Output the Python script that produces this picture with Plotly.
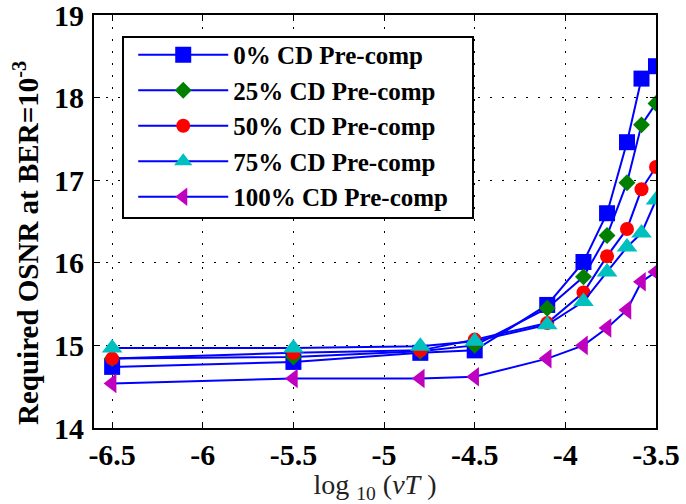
import plotly.graph_objects as go

x_vals = [-6.5, -5.5, -4.8, -4.5, -4.1, -3.9, -3.77, -3.66, -3.58, -3.5]
cd0 = [14.74, 14.80, 14.91, 14.94, 15.49, 16.01, 16.60, 17.46, 18.23, 18.38]
cd25 = [14.84, 14.86, 14.93, 15.00, 15.45, 15.83, 16.33, 16.97, 17.67, 17.93]
cd50 = [14.84, 14.91, 14.94, 15.07, 15.27, 15.64, 16.08, 16.41, 16.89, 17.16]
cd75 = [14.97, 14.97, 14.99, 15.05, 15.25, 15.53, 15.89, 16.19, 16.36, 16.76]
cd100 = [14.54, 14.60, 14.60, 14.62, 14.84, 15.00, 15.21, 15.43, 15.77, 15.89]

series_names = ["0% CD Pre-comp", "25% CD Pre-comp", "50% CD Pre-comp",
                "75% CD Pre-comp", "100% CD Pre-comp"]
series_vals = [cd0, cd25, cd50, cd75, cd100]
marker_symbols = ["square", "diamond", "circle", "triangle-up", "triangle-left"]
marker_colors = ["#0000FF", "#007F00", "#FF0000", "#00BFBF", "#BF00BF"]
marker_sizes = [16, 13, 14, 18, 17]

x_ticks = [-6.5, -6, -5.5, -5, -4.5, -4, -3.5]
x_ticklabels = ["-6.5", "-6", "-5.5", "-5", "-4.5", "-4", "-3.5"]
y_ticks = [14, 15, 16, 17, 18, 19]

FONT = "Liberation Serif"

fig = go.Figure()
for name, vals, sym, col, sz in zip(series_names, series_vals, marker_symbols,
                                     marker_colors, marker_sizes):
    fig.add_trace(go.Scatter(
        x=x_vals, y=vals, name=name, mode="lines+markers",
        line=dict(color="#0000FF", width=2),
        marker=dict(symbol=sym, color=col, size=sz, line=dict(width=0)),
    ))

axis_common = dict(
    showline=True, linecolor="black", linewidth=2, mirror="ticks",
    ticks="inside", ticklen=6, tickcolor="black", tickwidth=1,
    showgrid=True, gridcolor="black", gridwidth=1, griddash="2px,10px",
    zeroline=False, automargin=False, ticklabeloverflow="allow",
    tickfont=dict(family=FONT, size=30, color="black", weight="bold"),
)

fig.update_xaxes(
    range=[-6.6, -3.5], tickvals=x_ticks, ticktext=x_ticklabels,
    ticklabelstandoff=-1,
    title=dict(text="log <sub>10</sub> (<i>νT</i> )",
               font=dict(family=FONT, size=28, color="#222"), standoff=0),
    **axis_common,
)
fig.update_yaxes(
    range=[14, 19], tickvals=y_ticks, ticklabelstandoff=2,
    **axis_common,
)

fig.add_annotation(
    text="Required OSNR at BER=10<sup>-3</sup>",
    xref="paper", yref="paper", x=-0.12, y=0.447,
    xanchor="center", yanchor="middle", textangle=-90, showarrow=False,
    font=dict(family=FONT, size=29, color="black", weight="bold"),
)

# legend frame
fig.add_shape(
    type="rect", xref="paper", yref="paper",
    x0=0.0516, x1=0.6744, y0=0.5085, y1=0.9467,
    line=dict(color="black", width=2), fillcolor="white", layer="above",
)

fig.update_layout(
    width=686, height=504,
    margin=dict(l=94, r=30, t=15, b=76),
    plot_bgcolor="white", paper_bgcolor="white",
    showlegend=True,
    legend=dict(
        x=0.0698, y=0.959, xanchor="left", yanchor="top",
        bgcolor="rgba(0,0,0,0)", borderwidth=0,
        font=dict(family=FONT, size=25, color="black", weight="bold"),
        itemwidth=90,
    ),
)

fig.write_html("out.html")
